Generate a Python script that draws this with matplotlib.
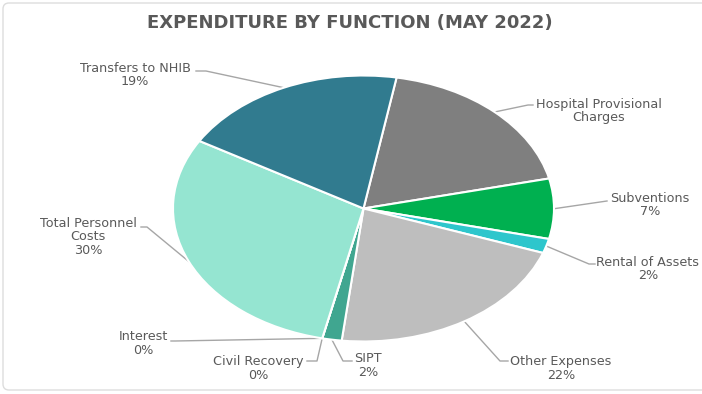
import matplotlib
matplotlib.use('Agg')
import matplotlib.pyplot as plt
import numpy as np
from matplotlib.patches import FancyBboxPatch

# ---------------- data ----------------
title = 'EXPENDITURE BY FUNCTION (MAY 2022)'
categories = ['Hospital Provisional Charges', 'Subventions', 'Rental of Assets',
              'Other Expenses', 'SIPT', 'Civil Recovery', 'Interest',
              'Total Personnel Costs', 'Transfers to NHIB']
values = [18.6, 7.3, 1.75, 21.4, 1.65, 0.0, 0.0, 30.0, 19.3]
pct_labels = ['', '7%', '2%', '22%', '2%', '0%', '0%', '30%', '19%']
label_lines = [['Hospital Provisional', 'Charges'], ['Subventions'], ['Rental of Assets'],
               ['Other Expenses'], ['SIPT'], ['Civil Recovery'], ['Interest'],
               ['Total Personnel', 'Costs'], ['Transfers to NHIB']]
colors = ['#7F7F7F', '#00B050', '#2EC6CC', '#BEBEBE', '#40A690', '#40A690',
          '#40A690', '#95E5D1', '#317B8F']

# ---------------- layout (pixels, origin top-left) ----------------
W, H = 702, 394
CX, CY, RX, RY = 363.5, 208.5, 190.5, 133.0
# text centre x, first-line centre y
text_pos = [(599, 104), (650, 198), (648, 262), (561, 362), (368, 359),
            (258, 362), (143, 337), (88, 223), (135, 68)]
# leader line points after the wedge edge point
leader = [[(528, 105), (533, 105)],
          [(607, 201)],
          [(589, 264), (595, 264)],
          [(500, 361), (508, 361)],
          [(343, 361), (352, 361)],
          [(317, 361), (307, 361)],
          [(175, 341), (171, 341)],
          [(147, 227), (141, 227)],
          [(206, 71), (196, 71)]]
LINE_H = 13.8
TXT = '#595959'
FONT = ['DejaVu Sans']

fig = plt.figure(figsize=(W / 100, H / 100), dpi=100)
fig.patch.set_facecolor('white')

ov = fig.add_axes([0, 0, 1, 1], zorder=0)
ov.set_xlim(0, W)
ov.set_ylim(H, 0)
ov.axis('off')

# chart frame
ov.add_patch(FancyBboxPatch((3, 3), W + 10, H - 7, boxstyle='round,pad=0,rounding_size=6',
                            fill=False, edgecolor='#DDDDDD', linewidth=1.0))

ax = fig.add_axes([(CX - RX) / W, (H - CY - RY) / H, 2 * RX / W, 2 * RY / H], zorder=1)
wedges, _ = ax.pie(values, colors=colors, startangle=80, counterclock=False,
                   wedgeprops=dict(edgecolor='white', linewidth=1.5))
ax.set_aspect('auto')
ax.set_xlim(-1, 1)
ax.set_ylim(-1, 1)
ax.axis('off')

fig.canvas.draw()
to_ov = ov.transData.inverted()

for i, w in enumerate(wedges):
    mid = np.deg2rad((w.theta1 + w.theta2) / 2)
    disp = ax.transData.transform((np.cos(mid), np.sin(mid)))
    ex, ey = to_ov.transform(disp)
    pts = [(ex, ey)] + leader[i]
    xs, ys = zip(*pts)
    ov.plot(xs, ys, color='#A6A6A6', linewidth=1.0, zorder=0.5)
    tx, ty = text_pos[i]
    lines = list(label_lines[i]) + ([pct_labels[i]] if pct_labels[i] else [])
    for k, s in enumerate(lines):
        ov.text(tx, ty + k * LINE_H, s, ha='center', va='center', fontsize=9.2,
                color=TXT, family=FONT)

ov.text(350, 23, title, ha='center', va='center', fontsize=13, fontweight='bold',
        color=TXT, family=FONT)

fig.savefig('out.png', dpi=100, facecolor='white')
